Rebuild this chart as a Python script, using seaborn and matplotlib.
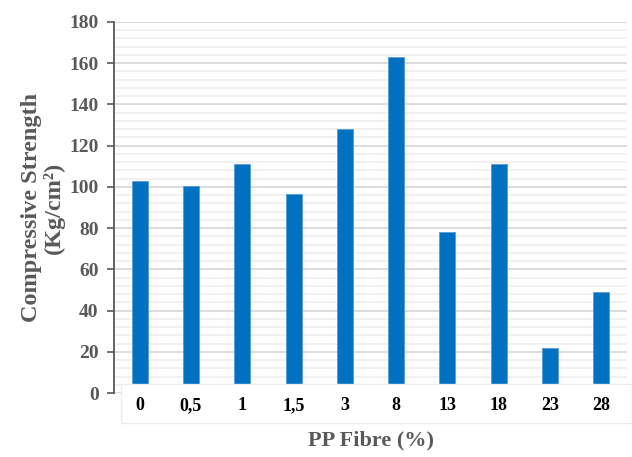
import matplotlib
matplotlib.use("Agg")
import matplotlib.pyplot as plt
import seaborn as sns
import pandas as pd
import numpy as np
from matplotlib.patches import Rectangle
from matplotlib.ticker import MultipleLocator

categories = ["0", "0,5", "1", "1,5", "3", "8", "13", "18", "23", "28"]
strength = [103.0, 100.2, 111.1, 96.6, 128.3, 163.2, 78.1, 111.1, 21.7, 49.0]
y_ticks = [0, 20, 40, 60, 80, 100, 120, 140, 160, 180]

df = pd.DataFrame({"fibre": categories, "strength": strength})

sns.set_theme(style="white")
plt.rcParams["font.family"] = ["Liberation Serif", "DejaVu Serif"]

fig = plt.figure(figsize=(6.32, 4.57), dpi=100)
ax = fig.add_axes([114/632, 1-393/457, 513/632, 371/457])

sns.barplot(data=df, x="fibre", y="strength", order=categories, color="#0070C0",
            saturation=1, width=0.31, ax=ax, edgecolor="#5b9bd5", linewidth=0.6, zorder=3)

ax.set_ylim(0, 180)
ax.set_xlim(-0.5, len(categories) - 0.5)
ax.set_yticks(y_ticks)
ax.yaxis.set_minor_locator(MultipleLocator(4))
ax.set_axisbelow(True)
ax.grid(axis="y", which="major", color="#d9d9d9", linewidth=1.3)
ax.grid(axis="y", which="minor", color="#f0f0f0", linewidth=1.3)
ax.grid(axis="x", visible=False)

for s in ["top", "right", "bottom"]:
    ax.spines[s].set_visible(False)
ax.spines["left"].set_color("#595959")
ax.spines["left"].set_linewidth(1.3)

ax.tick_params(axis="y", which="major", left=True, length=5, width=1.2, color="#595959",
               pad=6, labelsize=14, labelcolor="#595959")
ax.tick_params(axis="y", which="minor", left=False)
for lbl in ax.get_yticklabels():
    lbl.set_fontweight("bold")

ax.tick_params(axis="x", bottom=False, labelbottom=False)

# white box holding the category labels
trans = ax.get_xaxis_transform()
box = Rectangle((120.7/632, 1-423.3/457), (631.5-120.7)/632, (423.3-384.3)/457,
                transform=fig.transFigure, facecolor="white", edgecolor="#ececec",
                linewidth=1.0, zorder=4, clip_on=False)
ax.add_artist(box)
for i, lab in enumerate(categories):
    ax.text(i, (393-405.7)/371, lab, transform=trans, ha="center", va="center",
            fontsize=13, fontweight="bold", color="black", zorder=5, clip_on=False)

ax.set_xlabel("PP Fibre (%)", fontsize=16, fontweight="bold", color="#595959")
ax.xaxis.set_label_coords(0.5, (393-440)/371)
ax.xaxis.label.set_va("center")

ax.set_ylabel("Compressive Strength\n(Kg/cm²)", fontsize=17.5, fontweight="bold",
              color="#595959", linespacing=1.08, ha="center")
ax.yaxis.set_label_coords((43-114)/513, 0.5)
ax.yaxis.label.set_va("center")

fig.savefig("out.png", dpi=100)
